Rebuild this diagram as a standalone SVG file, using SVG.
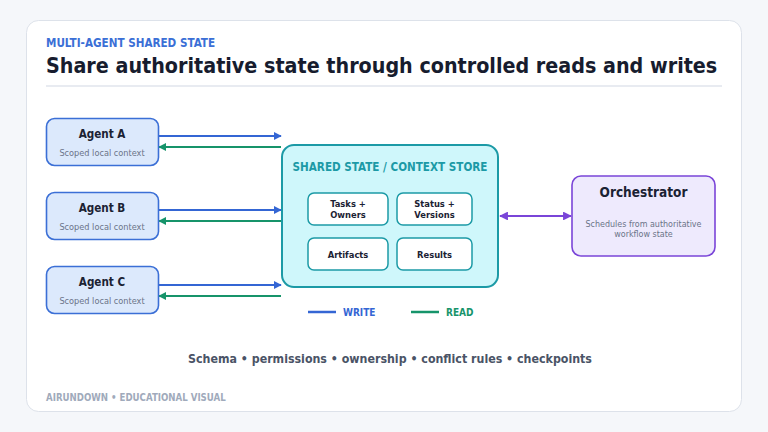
<svg xmlns="http://www.w3.org/2000/svg" width="768" height="432" viewBox="0 0 768 432">
<defs>
<style>
text{font-family:"DejaVu Sans Condensed","DejaVu Sans","Noto Sans",sans-serif;font-stretch:condensed}
.b{font-weight:bold}
.agent rect{fill:#dce9fc;stroke:#3b6fd6;stroke-width:1.6}
.at{font-size:11.6px;font-weight:bold;fill:#1b2233;text-anchor:middle}
.as{font-size:9.1px;fill:#6b7488;text-anchor:middle}
.cell rect{fill:#ffffff;stroke:#1c9aa6;stroke-width:1.5}
.ct{font-size:9.3px;font-weight:bold;fill:#1b2233;text-anchor:middle}
.w{stroke:#3466d4;stroke-width:2;fill:none}
.r{stroke:#16946a;stroke-width:2;fill:none}
</style>
<marker id="mw" viewBox="0 0 10 10" refX="9" refY="5" markerWidth="4" markerHeight="4" orient="auto"><path d="M0,0 L10,5 L0,10 z" fill="#3466d4"/></marker>
<marker id="mr" viewBox="0 0 10 10" refX="9" refY="5" markerWidth="4" markerHeight="4" orient="auto"><path d="M0,0 L10,5 L0,10 z" fill="#16946a"/></marker>
<marker id="mp" viewBox="0 0 10 10" refX="9" refY="5" markerWidth="4" markerHeight="4" orient="auto-start-reverse"><path d="M0,0 L10,5 L0,10 z" fill="#7a45d8"/></marker>
</defs>
<rect x="0" y="0" width="768" height="432" fill="#f5f7fa"/>
<rect x="26.5" y="20.5" width="715" height="391" rx="12" fill="#ffffff" stroke="#dde2ea" stroke-width="1"/>
<text x="46" y="47" class="b" font-size="11.6" fill="#3b6fd6">MULTI-AGENT SHARED STATE</text>
<text x="46" y="73" class="b" font-size="21.3" fill="#171c2e">Share authoritative state through controlled reads and writes</text>
<line x1="46" y1="86" x2="722" y2="86" stroke="#e1e5ec" stroke-width="1.5"/>

<g id="connectors">
<line class="w" x1="159" y1="136" x2="281" y2="136" marker-end="url(#mw)"/>
<line class="r" x1="281" y1="147" x2="159" y2="147" marker-end="url(#mr)"/>
<line class="w" x1="159" y1="210" x2="281" y2="210" marker-end="url(#mw)"/>
<line class="r" x1="281" y1="221" x2="159" y2="221" marker-end="url(#mr)"/>
<line class="w" x1="159" y1="285" x2="281" y2="285" marker-end="url(#mw)"/>
<line class="r" x1="281" y1="296" x2="159" y2="296" marker-end="url(#mr)"/>
<line x1="500" y1="216" x2="571" y2="216" stroke="#7a45d8" stroke-width="2.2" marker-start="url(#mp)" marker-end="url(#mp)"/>
</g>

<g id="agent-a" class="agent">
<rect x="46.5" y="118.5" width="112" height="47" rx="8"/>
<text x="102" y="138" class="at">Agent A</text>
<text x="102" y="156" class="as">Scoped local context</text>
</g>
<g id="agent-b" class="agent">
<rect x="46.5" y="192.5" width="112" height="47" rx="8"/>
<text x="102" y="212" class="at">Agent B</text>
<text x="102" y="230" class="as">Scoped local context</text>
</g>
<g id="agent-c" class="agent">
<rect x="46.5" y="266.5" width="112" height="47" rx="8"/>
<text x="102" y="286" class="at">Agent C</text>
<text x="102" y="304" class="as">Scoped local context</text>
</g>

<g id="store">
<rect x="282" y="145" width="216" height="142" rx="12" fill="#cff7fb" stroke="#1c9aa6" stroke-width="2"/>
<text x="390" y="171" class="b" font-size="11.6" fill="#1c9aa6" text-anchor="middle">SHARED STATE / CONTEXT STORE</text>
</g>
<g id="tasks" class="cell">
<rect x="308" y="193" width="80" height="32" rx="6"/>
<text x="348" y="206.5" class="ct">Tasks +</text>
<text x="348" y="217.5" class="ct">Owners</text>
</g>
<g id="status" class="cell">
<rect x="397" y="193" width="75" height="32" rx="6"/>
<text x="434.5" y="206.5" class="ct">Status +</text>
<text x="434.5" y="217.5" class="ct">Versions</text>
</g>
<g id="artifacts" class="cell">
<rect x="308" y="238" width="80" height="32" rx="6"/>
<text x="348" y="258" class="ct">Artifacts</text>
</g>
<g id="results" class="cell">
<rect x="397" y="238" width="75" height="32" rx="6"/>
<text x="434.5" y="258" class="ct">Results</text>
</g>

<g id="orchestrator">
<rect x="572" y="176" width="143" height="80" rx="9" fill="#eeeafd" stroke="#7a45d8" stroke-width="1.6"/>
<text x="643.5" y="197" class="b" font-size="13.5" fill="#1b2233" text-anchor="middle">Orchestrator</text>
<text x="643.5" y="227" font-size="8.9" fill="#6b7488" text-anchor="middle">Schedules from authoritative</text>
<text x="643.5" y="237" font-size="8.9" fill="#6b7488" text-anchor="middle">workflow state</text>
</g>

<g id="legend">
<line x1="308" y1="312" x2="336" y2="312" stroke="#3466d4" stroke-width="2.5"/>
<text x="343" y="315.5" class="b" font-size="10" fill="#3466d4">WRITE</text>
<line x1="411" y1="312" x2="439" y2="312" stroke="#16946a" stroke-width="2.5"/>
<text x="446" y="315.5" class="b" font-size="10" fill="#16946a">READ</text>
</g>

<text x="390" y="363" class="b" font-size="12.3" fill="#4a5366" text-anchor="middle">Schema • permissions • ownership • conflict rules • checkpoints</text>
<text x="46" y="401" class="b" font-size="9.6" fill="#a0aabb">AIRUNDOWN • EDUCATIONAL VISUAL</text>
</svg>
